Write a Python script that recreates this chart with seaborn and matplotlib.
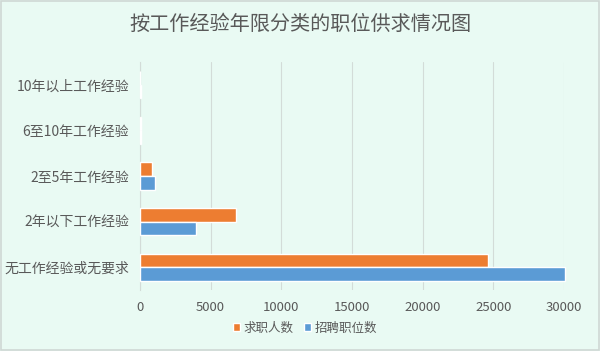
import pandas as pd
import seaborn as sns
import matplotlib.pyplot as plt
from matplotlib.patches import Rectangle

# 数据
categories = ['10年以上工作经验', '6至10年工作经验', '2至5年工作经验', '2年以下工作经验', '无工作经验或无要求']
seekers = [10, 60, 850, 6790, 24600]       # 求职人数
positions = [70, 60, 1060, 3950, 30050]    # 招聘职位数
series = ['求职人数', '招聘职位数']
colors = ['#ED7D31', '#5B9BD5']
xticks = [0, 5000, 10000, 15000, 20000, 25000, 30000]

df = pd.DataFrame({
    '类别': categories * 2,
    '数量': seekers + positions,
    '系列': [series[0]] * len(categories) + [series[1]] * len(categories),
})

sns.set_theme(style='white')
plt.rcParams['font.family'] = ['Noto Sans CJK SC', 'DejaVu Sans']

bg = '#E9FAF3'
fig = plt.figure(figsize=(6, 3.51), dpi=100, facecolor=bg)
ax = fig.add_axes([140 / 600, 1 - 290 / 351, 424 / 600, 228 / 351])
ax.set_facecolor(bg)

sns.barplot(data=df, x='数量', y='类别', hue='系列', hue_order=series,
            palette=colors, order=categories, width=0.6, ax=ax,
            saturation=1, legend=True)

ax.set_xlim(0, 30000)
ax.set_xticks(xticks)
ax.set_xticklabels([str(t) for t in xticks], color='#595959', fontsize=9.5)
ax.tick_params(axis='x', length=0, pad=8)
ax.tick_params(axis='y', length=0, pad=8)
for lab in ax.get_yticklabels():
    lab.set_color('#595959')
    lab.set_fontsize(10)
ax.set_xlabel('')
ax.set_ylabel('')
ax.grid(axis='x', color='#D3DCD8', linewidth=0.8)
ax.set_axisbelow(True)
for s in ['top', 'right', 'bottom']:
    ax.spines[s].set_visible(False)
ax.spines['left'].set_color('#D3DCD8')
ax.spines['left'].set_linewidth(0.8)
ax.spines['left'].set_zorder(0)
for p in ax.patches:
    p.set_clip_on(False)

ax.legend(loc='center', bbox_to_anchor=(305 / 600, 1 - 328 / 351),
          bbox_transform=fig.transFigure, ncol=2, frameon=False,
          fontsize=9, handlelength=0.6, handleheight=0.6, handletextpad=0.3,
          columnspacing=0.8, labelcolor='#595959')

fig.text(0.5, 1 - 24 / 351, '按工作经验年限分类的职位供求情况图', ha='center', va='center',
         fontsize=14.5, color='#595959')

fig.patches.append(Rectangle((0.002, 0.003), 0.996, 0.994, transform=fig.transFigure,
                             fill=False, edgecolor='#CFD8D4', linewidth=1.2))

fig.savefig('out.png', dpi=100, facecolor=bg)
